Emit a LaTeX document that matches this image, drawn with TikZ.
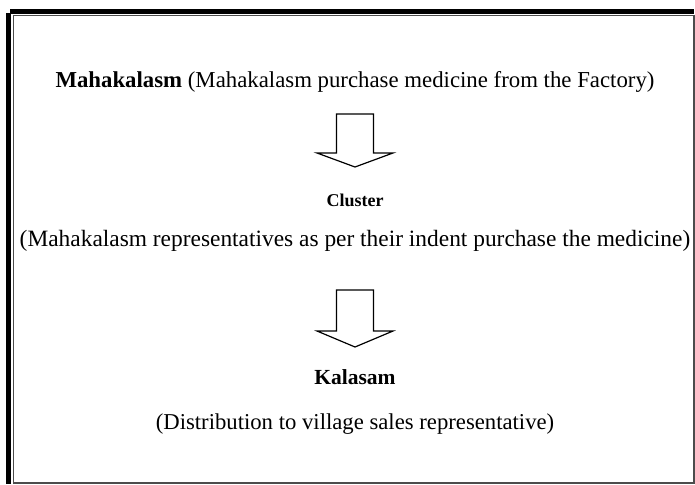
\documentclass[tikz,border=0pt]{standalone}
\usepackage{fontspec}
\setmainfont{Liberation Serif}
\usetikzlibrary{calc}
\def\blockdown[#1](#2)(#3:#4){\draw[#1] ($(#2)+(-18.5,0)$) -- ($(#2)+(-18.5,#3)$) -- ($(#2)+(-38,#3)$) -- ($(#2)+(0,#4)$) -- ($(#2)+(38,#3)$) -- ($(#2)+(18.5,#3)$) -- ($(#2)+(18.5,0)$) -- cycle;}
\tikzset{
  lbl/.style={inner sep=0pt, font=\fontsize{23}{27}\selectfont},
  small/.style={inner sep=0pt, font=\fontsize{18}{22}\selectfont\bfseries},
}

\begin{document}
\begin{tikzpicture}[x=1pt, y=-1pt]
		%%%%% START %%%%%
		\useasboundingbox (0, 0) rectangle (695, 484);
		
		\fill[black] (10, 9) rectangle (694, 14);
		\fill[black] (6, 13) rectangle (11, 484);
		\draw[line width=1.2pt, color=black!70] (13.5, 484) -- (13.5, 15.5) -- (694, 15.5) -- (694, 483) -- (13.5, 483);
		
		\node[lbl, font=\fontsize{22.8}{27}\selectfont] (top) at (355, 82) {\textbf{Mahakalasm} (Mahakalasm purchase medicine from the Factory)};
		\coordinate (a1) at (355, 114);
		\blockdown[line width=1.2pt](a1)(39:53);
		
		\node[small] (cluster) at (355, 200) {Cluster};
		\node[lbl, font=\fontsize{23.4}{27}\selectfont] (clusterinfo) at (355, 241) {(Mahakalasm representatives as per their indent purchase the medicine)};
		\coordinate (a2) at (355, 290);
		\blockdown[line width=1.2pt](a2)(41:57);
		
		\node[lbl, font=\fontsize{21.5}{26}\selectfont\bfseries] (kalasam) at (355, 377) {Kalasam};
		\node[lbl, font=\fontsize{22.7}{27}\selectfont] (kalasaminfo) at (355, 424) {(Distribution to village sales representative)};
		%%%%% END %%%%%
\end{tikzpicture}
\end{document}
